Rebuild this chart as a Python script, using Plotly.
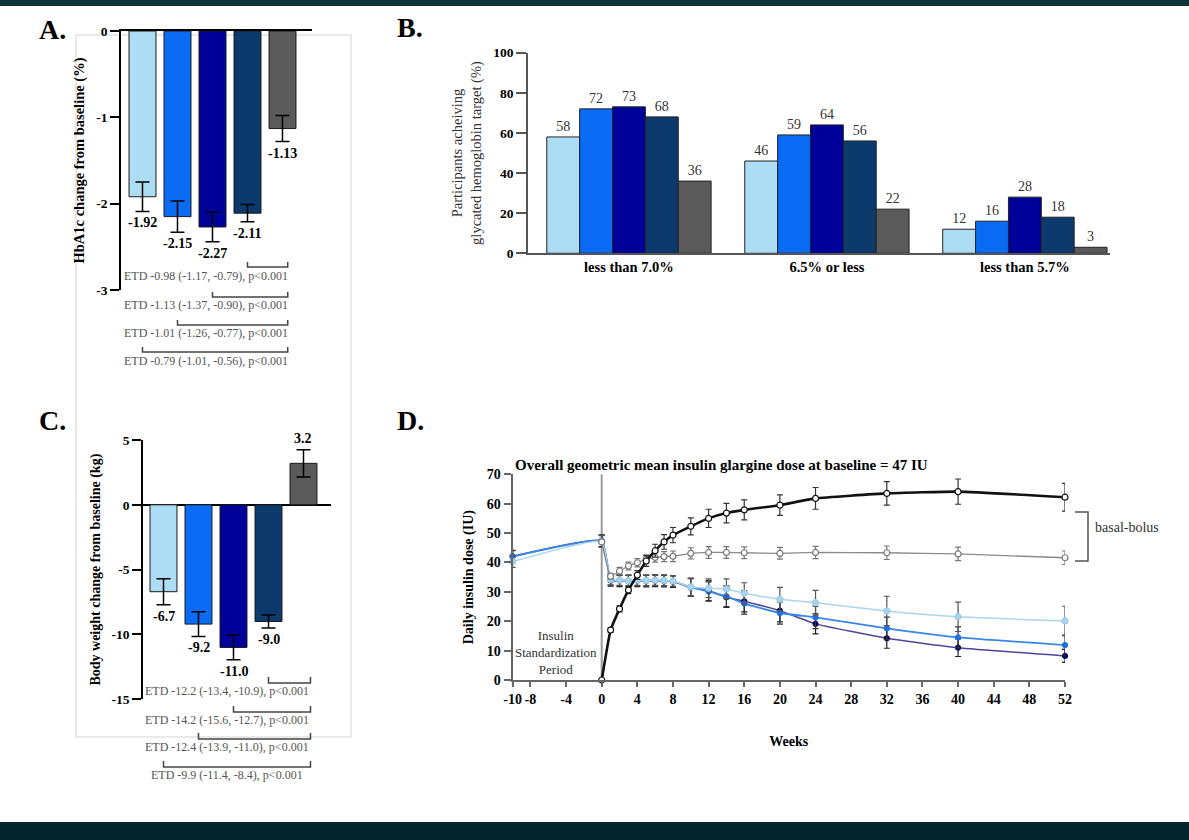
import plotly.graph_objects as go

W, H = 1189, 840
SERIF = "Liberation Serif, Times New Roman, serif"

# ---- data ----
arms = ["Tirzepatide 5 mg", "Tirzepatide 10 mg", "Tirzepatide 15 mg", "Tirzepatide pooled", "Insulin lispro"]
arm_colors = ["#addcf5", "#0a6cf5", "#00009a", "#0c3a6c", "#5a5a5a"]

# A. HbA1c change (%)
hba1c_change = [-1.92, -2.15, -2.27, -2.11, -1.13]
hba1c_err = [0.17, 0.18, 0.17, 0.10, 0.15]
hba1c_ticks = [0, -1, -2, -3]
hba1c_etd = [
    "ETD -0.98 (-1.17, -0.79), p&lt;0.001",
    "ETD -1.13 (-1.37, -0.90), p&lt;0.001",
    "ETD -1.01 (-1.26, -0.77), p&lt;0.001",
    "ETD -0.79 (-1.01, -0.56), p&lt;0.001",
]

# B. participants achieving target (%)
targets = ["less than 7.0%", "6.5% or less", "less than 5.7%"]
target_tzp5 = [58, 46, 12]
target_tzp10 = [72, 59, 16]
target_tzp15 = [73, 64, 28]
target_pooled = [68, 56, 18]
target_lispro = [36, 22, 3]

# C. body weight change (kg)
weight_change = [-6.7, -9.2, -11.0, -9.0, 3.2]
weight_err = [1.0, 0.95, 0.95, 0.5, 1.05]
weight_ticks = [5, 0, -5, -10, -15]
weight_etd = [
    "ETD -12.2 (-13.4, -10.9), p&lt;0.001",
    "ETD -14.2 (-15.6, -12.7), p&lt;0.001",
    "ETD -12.4 (-13.9, -11.0), p&lt;0.001",
    "ETD -9.9 (-11.4, -8.4), p&lt;0.001",
]

# D. daily insulin dose (IU)
weeks_tzp = [-10, 0, 1, 2, 3, 4, 5, 6, 7, 8, 10, 12, 14, 16, 20, 24, 32, 40, 52]
dose_tzp5 = [40.3, 47.1, 34.2, 34.0, 33.8, 34.0, 33.9, 34.0, 33.9, 33.7, 31.7, 31.2, 31.0, 29.5, 27.5, 26.3, 23.5, 21.5, 20.1]
err_tzp5 = [2.0, 2.0, 1.8, 1.8, 1.8, 1.8, 1.8, 1.8, 1.8, 1.8, 3.0, 3.2, 3.4, 3.6, 4.0, 4.2, 5.0, 5.0, 5.0]
dose_tzp10 = [42.0, 47.2, 34.0, 33.9, 33.8, 33.9, 33.8, 33.9, 33.8, 33.6, 31.6, 30.1, 28.5, 26.0, 22.8, 21.3, 17.6, 14.5, 11.9]
err_tzp10 = [2.0, 2.0, 1.8, 1.8, 1.8, 1.8, 1.8, 1.8, 1.8, 1.8, 3.0, 3.3, 3.5, 3.6, 3.8, 3.8, 3.8, 3.6, 3.4]
dose_tzp15 = [42.1, 47.4, 33.9, 33.8, 33.7, 33.8, 33.7, 33.8, 33.7, 33.5, 31.5, 30.4, 28.2, 26.8, 23.6, 19.1, 14.2, 11.0, 8.2]
err_tzp15 = [2.0, 2.0, 2.0, 2.0, 2.0, 2.0, 2.0, 2.0, 2.0, 2.0, 3.0, 3.4, 3.5, 3.6, 3.8, 3.4, 3.4, 3.0, 2.2]
weeks_bb = [0, 1, 2, 3, 4, 5, 6, 7, 8, 10, 12, 14, 16, 20, 24, 32, 40, 52]
dose_total_bb = [0, 17.0, 24.2, 30.6, 35.7, 40.5, 44.0, 47.0, 49.3, 52.3, 55.0, 56.8, 57.9, 59.5, 61.8, 63.5, 64.1, 62.2]
err_total_bb = [0, 0.8, 1.0, 1.2, 1.5, 1.8, 2.2, 2.5, 2.6, 2.9, 3.1, 3.3, 3.4, 3.5, 3.7, 4.0, 4.3, 4.7]
dose_glargine_bb = [47.0, 35.3, 37.1, 38.8, 39.9, 41.1, 41.7, 42.0, 42.1, 43.1, 43.4, 43.4, 43.3, 43.1, 43.4, 43.3, 42.9, 41.6]
err_glargine_bb = [0, 1.0, 1.2, 1.3, 1.4, 1.5, 1.6, 1.7, 1.8, 1.9, 2.0, 2.0, 2.0, 2.0, 2.1, 2.3, 2.3, 2.3]
week_ticks = [-10, -8, -4, 0, 4, 8, 12, 16, 20, 24, 28, 32, 36, 40, 44, 48, 52]


def px(x):
    return x / W


def py(y):
    return 1 - y / H


def hyphen(vals):
    # the figure prints plain hyphens, not unicode minus signs
    return [str(v) for v in vals]


bold = dict(family=SERIF, color="black", weight="bold")

fig = go.Figure()

# ---- A ----
idx = list(range(len(arms)))
fig.add_trace(go.Bar(
    x=idx, y=hba1c_change, width=0.77, xaxis="x", yaxis="y",
    marker=dict(color=arm_colors, line=dict(color="#1a1a1a", width=1)),
    error_y=dict(type="data", array=hba1c_err, color="black", thickness=1.5, width=7),
    hovertext=arms,
))

# ---- B ----
b_values = [target_tzp5, target_tzp10, target_tzp15, target_pooled, target_lispro]
for name, vals, col in zip(arms, b_values, arm_colors):
    fig.add_trace(go.Bar(
        x=targets, y=vals, name=name, xaxis="x2", yaxis="y2",
        marker=dict(color=col, line=dict(color="#222", width=1)),
        text=vals, textposition="outside", cliponaxis=False,
        textfont=dict(family=SERIF, size=14, color="#333"),
    ))

# ---- C ----
fig.add_trace(go.Bar(
    x=idx, y=weight_change, width=0.77, xaxis="x3", yaxis="y3",
    marker=dict(color=arm_colors, line=dict(color="#1a1a1a", width=1)),
    error_y=dict(type="data", array=weight_err, color="black", thickness=1.5, width=7),
    hovertext=arms,
))

# ---- D ----
d_series = [
    (weeks_tzp, dose_tzp15, err_tzp15, "#4a469a", 1.5, "#07075a", "#07075a", 5, "#222"),
    (weeks_tzp, dose_tzp10, err_tzp10, "#3a86e8", 1.8, "#1f6fe0", "#1f6fe0", 5, "#333"),
    (weeks_tzp, dose_tzp5, err_tzp5, "#a9d6ee", 1.5, "#a9d6ee", "#9ccbe6", 6, "#555"),
    (weeks_bb, dose_glargine_bb, err_glargine_bb, "#8a8a8a", 1.3, "white", "#777", 6, "#777"),
    (weeks_bb, dose_total_bb, err_total_bb, "#111", 2.6, "white", "#111", 6, "#333"),
]
for wk, dose, err, lc, lw, mfill, mline, ms, ec in d_series:
    fig.add_trace(go.Scatter(
        x=wk, y=dose, mode="lines+markers", xaxis="x4", yaxis="y4",
        line=dict(color=lc, width=lw, shape="spline", smoothing=0.4),
        marker=dict(size=ms, color=mfill, line=dict(color=mline, width=1.2)),
        error_y=dict(type="data", array=err, color=ec, thickness=1.2, width=3),
        cliponaxis=False,
    ))

annotations = []
shapes = []


def note(x, y, text, font, xanchor="center", yanchor="middle"):
    annotations.append(dict(x=px(x), y=py(y), xref="paper", yref="paper", text=text, showarrow=False,
                            xanchor=xanchor, yanchor=yanchor, font=font))


# value labels A and C
for i, (v, e) in enumerate(zip(hba1c_change, hba1c_err)):
    annotations.append(dict(x=i, y=v - e, xref="x", yref="y", text=f"{v:.2f}", showarrow=False,
                            xanchor="center", yanchor="top", yshift=-2, font=dict(bold, size=14)))
for i, (v, e) in enumerate(zip(weight_change, weight_err)):
    annotations.append(dict(x=i, y=v + e if v > 0 else v - e, xref="x3", yref="y3", text=f"{v:.1f}",
                            showarrow=False, xanchor="center", yanchor="bottom" if v > 0 else "top",
                            yshift=2 if v > 0 else -2, font=dict(bold, size=14)))

# ETD brackets and texts
etd_font = dict(family=SERIF, size=12, color="#555")
a_rows = [(262, 267, 276), (292, 297, 305), (320, 325, 333), (347, 352, 361)]
for k, (txt, (yt, yb, ytxt)) in enumerate(zip(hba1c_etd, a_rows)):
    x0 = 3 - k
    shapes.append(dict(type="path", xref="x", yref="paper",
                       path=f"M {x0},{py(yt)} L {x0},{py(yb)} L 4.15,{py(yb)} L 4.15,{py(yt)}",
                       line=dict(color="#444", width=1.5)))
    note(206, ytxt, txt, etd_font)
c_rows = [(677, 683, 691), (706, 712, 720), (733, 739, 747), (761, 767, 775)]
for k, (txt, (yt, yb, ytxt)) in enumerate(zip(weight_etd, c_rows)):
    x0 = 3 - k
    shapes.append(dict(type="path", xref="x3", yref="paper",
                       path=f"M {x0},{py(yt)} L {x0},{py(yb)} L 4.2,{py(yb)} L 4.2,{py(yt)}",
                       line=dict(color="#444", width=1.5)))
    note(227, ytxt, txt, etd_font)

# panel letters
for lab, x, y in [("A.", 52, 30), ("B.", 410, 28), ("C.", 52, 420), ("D.", 410, 420)]:
    note(x, y, lab, dict(bold, size=28))

# D texts
note(513, 465, "Overall geometric mean insulin glargine dose at baseline = 47 IU", dict(bold, size=15),
     xanchor="left")
annotations.append(dict(x=-5.1, y=9.5, xref="x4", yref="y4", xanchor="center", yanchor="middle",
                        text="Insulin<br>Standardization<br>Period", showarrow=False,
                        font=dict(family=SERIF, size=13, color="#333")))
note(1093, 527, "basal-bolus", dict(family=SERIF, size=14, color="#333"), xanchor="left")

shapes += [
    dict(type="rect", xref="paper", yref="paper", x0=px(76), x1=px(351), y0=py(737), y1=py(35),
         line=dict(color="#e2e2e2", width=1.5), layer="below"),
    dict(type="rect", xref="paper", yref="paper", x0=0, x1=1, y0=py(6), y1=1,
         fillcolor="#0d3338", line=dict(width=0)),
    dict(type="rect", xref="paper", yref="paper", x0=0, x1=1, y0=0, y1=py(822),
         fillcolor="#03242a", line=dict(width=0)),
    dict(type="line", xref="x4", yref="y4", x0=0, x1=0, y0=0, y1=70,
         line=dict(color="#9a9a9a", width=2), layer="below"),
    dict(type="path", xref="paper", yref="paper",
         path=f"M {px(1075)},{py(512)} L {px(1088)},{py(512)} L {px(1088)},{py(561)} L {px(1075)},{py(561)}",
         line=dict(color="#555", width=1.5)),
]

tickfont = dict(bold, size=13.5)
common_y = dict(showline=True, linecolor="black", linewidth=1.5, ticks="outside", ticklen=9, tickwidth=1.5,
                tickcolor="black", showgrid=False, tickfont=tickfont, automargin=False)

fig.update_layout(
    width=W, height=H, margin=dict(l=0, r=0, t=0, b=0, pad=0), autosize=False,
    paper_bgcolor="white", plot_bgcolor="white", showlegend=False,
    barmode="group", bargap=0.17, bargroupgap=0,
    font=dict(family=SERIF, color="black"),
    annotations=annotations, shapes=shapes,
    # A
    xaxis=dict(domain=[px(121), px(312)], range=[-0.614, 4.843], anchor="y", side="top",
               showline=True, linecolor="black", linewidth=1.5, showticklabels=False, ticks="",
               showgrid=False, zeroline=False, automargin=False),
    yaxis=dict(domain=[py(290), py(31)], range=[-3, 0], anchor="x", tickvals=hba1c_ticks,
               ticktext=hyphen(hba1c_ticks), zeroline=False,
               title=dict(text="HbA1c change from baseline (%)", font=dict(bold, size=14.5), standoff=8),
               **common_y),
    # B
    xaxis2=dict(domain=[px(528), px(1110)], range=[-0.51, 2.43], anchor="y2", showline=True,
                linecolor="#555", linewidth=1.5, ticks="", showgrid=False, tickfont=dict(bold, size=14.5),
                automargin=False),
    yaxis2=dict(domain=[py(253.3), py(52.7)], range=[0, 100], dtick=20, anchor="x2", zeroline=False,
                title=dict(text="Participants acheiving<br>glycated hemoglobin target (%)",
                           font=dict(family=SERIF, size=14.5, color="#333"), standoff=8),
                showline=True, linecolor="#555", linewidth=1.5, ticks="outside", ticklen=10, tickwidth=1.5,
                tickcolor="#555", showgrid=False, tickfont=tickfont, automargin=False),
    # C
    xaxis3=dict(domain=[px(143), px(331)], range=[-0.586, 4.786], anchor="y3", visible=False,
                automargin=False),
    yaxis3=dict(domain=[py(699.3), py(440)], range=[-15, 5], anchor="x3", tickvals=weight_ticks,
                ticktext=hyphen(weight_ticks), zeroline=True, zerolinecolor="black", zerolinewidth=1.5,
                title=dict(text="Body weight change from baseline (kg)", font=dict(bold, size=14), standoff=8),
                **common_y),
    # D
    xaxis4=dict(domain=[px(512.6), px(1065)], range=[-10, 52], anchor="y4", tickvals=week_ticks,
                ticktext=hyphen(week_ticks), tickangle=0, showline=True, linecolor="#666", linewidth=2,
                ticks="outside", ticklen=5, tickwidth=1.5, tickcolor="#666", showgrid=False, zeroline=False,
                tickfont=dict(bold, size=14), automargin=False,
                title=dict(text="Weeks", font=dict(bold, size=14), standoff=30)),
    yaxis4=dict(domain=[py(680), py(474.3)], range=[0, 70], dtick=10, anchor="x4", zeroline=False,
                showline=True, linecolor="#666", linewidth=2, ticks="outside", ticklen=7, tickwidth=1.5,
                tickcolor="#666", showgrid=False, tickfont=dict(bold, size=14), automargin=False,
                title=dict(text="Daily insulin dose (IU)", font=dict(bold, size=14), standoff=10)),
)

# the page body has a default 8px margin; remove it so the figure sits at the window corner
fig.write_html("out.html", config={"displayModeBar": False},
               post_script="document.body.style.margin='0';")
